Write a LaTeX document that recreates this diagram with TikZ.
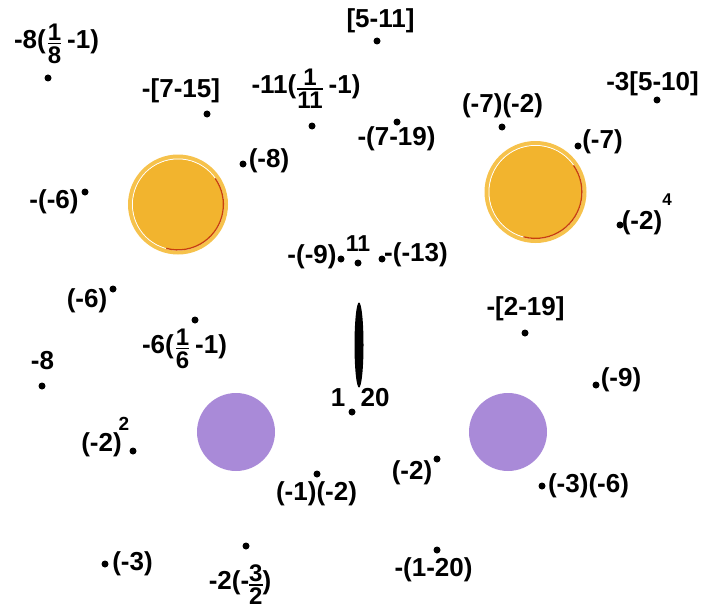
\documentclass[tikz,border=0pt]{standalone}
\usepackage{fontspec}
\setmainfont{Liberation Sans}
\usetikzlibrary{shapes.geometric}
\definecolor{orin}{HTML}{F2B42E}
\definecolor{orout}{HTML}{F6C24C}
\definecolor{orred}{HTML}{C8400E}
\definecolor{purp}{HTML}{A98AD8}
\newcommand\myfr[2]{\begingroup\fontsize{24}{24}\selectfont\bfseries
  \setbox0=\hbox{#1}\setbox2=\hbox{#2}%
  \dimen0=\wd0 \ifdim\wd2>\dimen0 \dimen0=\wd2 \fi
  \setbox4=\vbox{\hbox to\dimen0{\hfil\box0\hfil}\kern2.2pt\hrule height1.8pt\kern2.2pt\hbox to\dimen0{\hfil\box2\hfil}}%
  \dimen2=\dimexpr 5pt-(\ht4-\dp4)/2\relax
  \raise\dimen2\box4\endgroup}
\begin{document}
\begin{tikzpicture}[x=1pt,y=-1pt,
  lab/.style={anchor=mid, inner sep=0pt, font=\fontsize{26}{28}\selectfont\bfseries},
  sup/.style={inner sep=0pt, font=\fontsize{17}{18}\selectfont\bfseries},
  dot/.style={circle, fill=black, inner sep=0pt, minimum size=7pt},
  purple disc/.style={circle, fill=purp, inner sep=0pt, minimum size=78pt},
]
\useasboundingbox (0,0) rectangle (703,615);

% orange discs
\coordinate (oL) at (178,204.5);
\coordinate (oR) at (535.5,192);
\foreach \c/\r in {oL/50,oR/51}{
  \fill[orout] (\c) circle (\r);
  \draw[white, line width=1.0] (\c) circle ({\r-4.5});
  \fill[orin] (\c) circle ({\r-5});
  \draw[orred, line width=1.3] (\c) ++(-35:{\r-4.6}) arc[start angle=-35, end angle=105, radius={\r-4.6}];
}

% purple discs
\node[purple disc] (pL) at (236,432) {};
\node[purple disc] (pR) at (508,432) {};

% vertical lens
\node[ellipse, fill=black, inner sep=0pt, minimum width=9pt, minimum height=85pt] (el) at (359,345) {};

% dots
\node[dot] (d1) at (48,78) {};
\node[dot] (d2) at (207,114) {};
\node[dot] (d3) at (377,41) {};
\node[dot] (d4) at (312,126) {};
\node[dot] (d5) at (397,122) {};
\node[dot] (d6) at (502,127) {};
\node[dot] (d7) at (657,100) {};
\node[dot] (d8) at (578,146) {};
\node[dot] (d9) at (620,225) {};
\node[dot] (d10) at (243,164) {};
\node[dot] (d11) at (85,192) {};
\node[dot] (d12) at (113,289) {};
\node[dot] (d13) at (195,320) {};
\node[dot] (d14) at (42,386) {};
\node[dot] (d15a) at (341,259) {};
\node[dot] (d15b) at (358,263) {};
\node[dot] (d15c) at (382,259) {};
\node[dot] (d17) at (352,412) {};
\node[dot] (d18) at (525,333) {};
\node[dot] (d19) at (596,385) {};
\node[dot] (d20) at (133,451) {};
\node[dot] (d21) at (317,474) {};
\node[dot] (d22) at (437,459) {};
\node[dot] (d23) at (542,486) {};
\node[dot] (d24) at (105,564) {};
\node[dot] (d25) at (246,546) {};
\node[dot] (d26) at (437,550) {};

% labels
\node[lab] (t1) at (56.5,46) {-8(\hspace{2pt}\myfr{1}{8}\hspace{6pt}-1)};
\node[lab] (t2) at (181,95) {-[7-15]};
\node[lab] (t3) at (380.5,25) {[5-11]};
\node[lab] (t4) at (306,91) {-11(\hspace{1pt}\myfr{1}{11}\hspace{6pt}-1)};
\node[lab] (t5) at (396.5,143) {-(7-19)};
\node[lab] (t6) at (502.5,110) {(-7)(-2)};
\node[lab] (t7) at (652.5,88) {-3[5-10]};
\node[lab] (t8) at (602.5,146) {(-7)};
\node[lab] (t9) at (642,227) {(-2)};
\node[sup] (s9) at (667,200) {4};
\node[lab] (t10) at (269,165) {(-8)};
\node[lab] (t11) at (54,206) {-(-6)};
\node[lab] (t12) at (87,305) {(-6)};
\node[lab] (t13) at (184.5,351) {-6(\hspace{2pt}\myfr{1}{6}\hspace{6pt}-1)};
\node[lab] (t14) at (42.5,367) {-8};
\node[lab] (t15) at (312,261) {-(-9)};
\node[sup, font=\fontsize{23}{24}\selectfont\bfseries] (t15b) at (358,244) {11};
\node[lab] (t15c) at (416,259) {-(-13)};
\node[lab] (t17a) at (338,404) {1};
\node[lab] (t17b) at (375,404) {20};
\node[lab] (t18) at (525.5,313) {-[2-19]};
\node[lab] (t19) at (621,384) {(-9)};
\node[lab] (t20) at (101.5,449) {(-2)};
\node[sup, font=\fontsize{19}{20}\selectfont\bfseries] (s20) at (124,424) {2};
\node[lab] (t21) at (316.5,498) {(-1)(-2)};
\node[lab] (t22) at (412,477) {(-2)};
\node[lab] (t23) at (588.5,490) {(-3)(-6)};
\node[lab] (t24) at (132.5,568) {(-3)};
\node[lab] (t25) at (240,587) {-2(-\myfr{3}{2})};
\node[lab] (t26) at (433.5,574) {-(1-20)};
\end{tikzpicture}
\end{document}
